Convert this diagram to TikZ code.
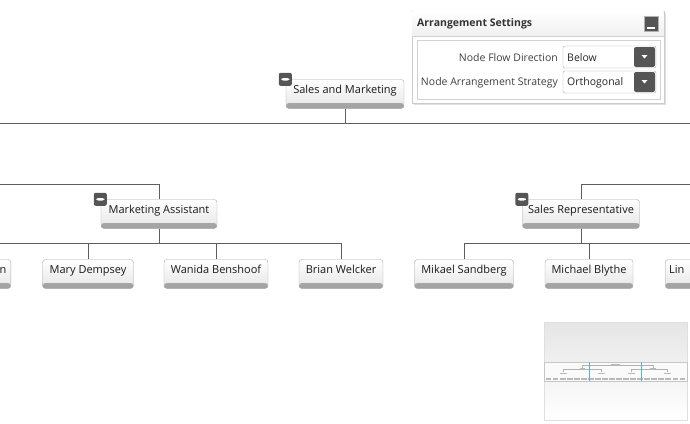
\documentclass[tikz,border=0pt]{standalone}
\usepackage{fontspec}
\setmainfont{Open Sans}
\usetikzlibrary{shadows}
\definecolor{wire}{HTML}{5E5E5E}
\definecolor{rim}{HTML}{A8A8A8}
\definecolor{band}{HTML}{8E8E8E}
\definecolor{knob}{HTML}{555555}
\definecolor{viewline}{HTML}{5AAFCF}

\tikzset{
  person/.style={draw=rim, rounded corners=3pt, top color=white, bottom color=gray!20,
    minimum height=29, text height=8pt, text depth=8.5pt, inner xsep=3pt,
    font=\fontsize{11}{13}\selectfont, text=black!90,
    path picture={\shade[top color=gray!50, bottom color=gray!75] ([yshift=-1pt]path picture bounding box.south west)
      rectangle ([yshift=5.5pt]path picture bounding box.south east);}},
  fold/.style={fill=knob, rounded corners=2pt, minimum size=13, inner sep=0pt,
    path picture={\fill[white] ([xshift=-4pt,yshift=-1.2pt]path picture bounding box.center)
      rectangle ([xshift=4pt,yshift=1.2pt]path picture bounding box.center);}},
  wires/.style={draw=wire, line width=0.8pt},
  tag/.style={font=\fontsize{10.5}{12}\selectfont, text=black!75, inner sep=0pt},
  combo/.style={draw=gray!65, fill=white, rounded corners=2pt},
  mini/.style={fill=gray!55, minimum width=5.5, minimum height=1.8, inner sep=0pt}
}

\begin{document}
\begin{tikzpicture}[x=1pt,y=-1pt]
  \useasboundingbox (0,0) rectangle (690,423);
  \clip (0,0) rectangle (690,423);

  % chart
  \node[person, minimum width=118] (sm) at (345,94) {Sales and Marketing};
  \node[person, minimum width=116] (ma) at (159,214) {Marketing Assistant};
  \node[person, minimum width=117] (sr) at (581,214) {Sales Representative};

  \node[person, minimum width=91, text width=82, align=right, anchor=east] (cutl) at (11,274) {n};
  \node[person, minimum width=91] (md) at (88,274) {Mary Dempsey};
  \node[person, minimum width=104] (wb) at (216,274) {Wanida Benshoof};
  \node[person, minimum width=84] (bw) at (341,274) {Brian Welcker};
  \node[person, minimum width=99] (ms) at (464,274) {Mikael Sandberg};
  \node[person, minimum width=88] (mb) at (589,274) {Michael Blythe};
  \node[person, minimum width=90, text width=82, align=left, anchor=west] (cutr) at (665,274) {Lin};

  \coordinate (railL) at (0,123);
  \coordinate (railR) at (690,123);
  \coordinate (leftin) at (0,184);
  \coordinate (rightin) at (690,184);
  \coordinate (mabus) at (159,243);
  \coordinate (mabusL) at (0,243);
  \coordinate (srbus) at (581,243);
  \coordinate (srbusR) at (690,243);

  \draw[wires] (railL) -- (railR);
  \draw[wires] (sm.south) -- (sm |- railL);
  \draw[wires] (leftin) -| (ma.north);
  \draw[wires] (rightin) -| (sr.north);

  \draw[wires] (ma.south) -- (mabus);
  \draw[wires] (mabusL) -| (bw.north);
  \foreach \k in {md,wb}
    \draw[wires] (\k |- mabus) -- (\k.north);

  \draw[wires] (sr.south) -- (srbus);
  \draw[wires] (srbusR) -| (ms.north);
  \draw[wires] (mb |- srbus) -- (mb.north);

  \node[fold] (smf) at ([xshift=-0.5pt]sm.north west) {};
  \node[fold] (maf) at ([xshift=-0.5pt]ma.north west) {};
  \node[fold] (srf) at ([xshift=-0.5pt]sr.north west) {};

  % settings panel
  \filldraw[draw=gray!40, fill=white, drop shadow={opacity=0.25, shadow xshift=1.5pt, shadow yshift=-1.5pt}]
    (412,11) rectangle (664,103);
  \shade[top color=white, bottom color=gray!12] (412.5,11.5) rectangle (663.5,36);
  \draw[gray!35] (412,36) -- (664,36);
  \node[anchor=west, inner sep=0pt, font=\fontsize{10.5}{12}\selectfont\bfseries, text=black!80] (title) at (417,23.5) {Arrangement Settings};
  \node[draw=gray!60, fill=knob, minimum width=14, minimum height=15, inner sep=0pt,
    path picture={\fill[white] ([xshift=-4pt,yshift=-5pt]path picture bounding box.center)
      rectangle ([xshift=4pt,yshift=-3pt]path picture bounding box.center);}] (hide) at (651,23.5) {};
  \draw[gray!35] (417,40) rectangle (660,99);

  \node[tag, anchor=east] (flowlbl) at (558,57.5) {Node Flow Direction};
  \node[tag, anchor=east] (stratlbl) at (558,82.5) {Node Arrangement Strategy};

  \foreach \y/\txt in {57/Below, 82/Orthogonal} {
    \draw[combo] (563,\y-11) rectangle (656,\y+11);
    \node[tag, anchor=west, text=black!85] at (567,\y+0.5) {\txt};
    \fill[knob, rounded corners=2pt] (634,\y-10) rectangle (655,\y+10);
    \fill[white] (641.5,\y-2) -- (647.5,\y-2) -- (644.5,\y+1.5) -- cycle;
  }

  % overview
  \draw[gray!25, top color=gray!20, bottom color=white] (544,322) rectangle (687,420);
  \draw[gray!45, fill=white!60!gray!10] (544,362) rectangle (687,381);
  \node[mini, minimum width=9] (r) at (615.5,365) {};
  \node[mini] (a) at (582.5,368.8) {};
  \node[mini] (b) at (653,368.8) {};
  \foreach \n/\x in {c1/563.5, c2/601.5, c3/631.5, c4/667.5}
    \node[mini, minimum width=7] (\n) at (\x,373.5) {};
  \foreach \i in {0,...,19}
    \node[mini, minimum width=5.8] (d\i) at (548.5+\i*7.05,378.6) {};
  \draw[gray!60, line width=0.3pt] (a) |- (r) -| (b);
  \draw[gray!60, line width=0.3pt] (c1) |- (a) -| (c2);
  \draw[gray!60, line width=0.3pt] (c3) |- (b) -| (c4);
  \draw[viewline, line width=0.9pt] (589,362) -- (589,381);
  \draw[viewline, line width=0.9pt] (641,362) -- (641,381);
\end{tikzpicture}
\end{document}
